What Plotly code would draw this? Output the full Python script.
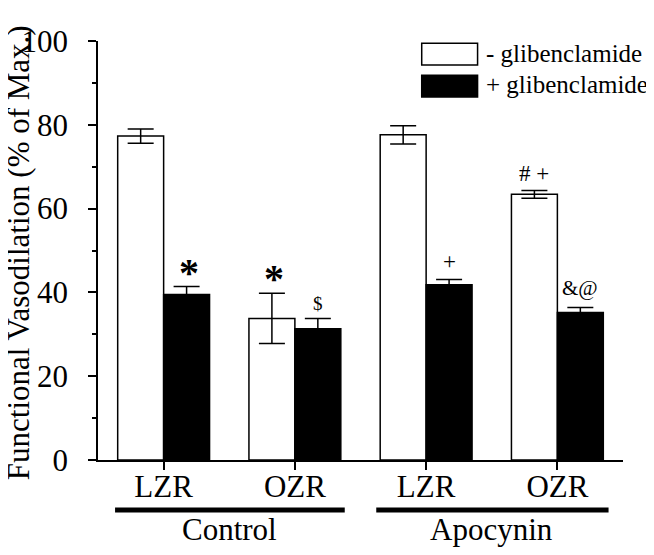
import plotly.graph_objects as go

# ---- data ----
x_pos = [0, 1, 2, 3]
strain_labels = ["LZR", "OZR", "LZR", "OZR"]
group_labels = ["Control", "Apocynin"]
minus_glib = [77.3, 33.8, 77.6, 63.4]
minus_glib_err = [1.7, 6.0, 2.2, 0.9]
plus_glib = [39.5, 31.3, 41.8, 35.2]
plus_glib_err = [1.9, 2.5, 1.3, 1.2]
minus_marks = ["", "*", "", "# +"]
plus_marks = ["*", "$", "+", "&@"]
y_ticks = [0, 20, 40, 60, 80, 100]
y_title = "Functional Vasodilation (% of Max.)"

FONT = "Liberation Serif, Times New Roman, DejaVu Serif, serif"

fig = go.Figure()
fig.add_trace(go.Bar(
    x=x_pos, y=minus_glib, name="- glibenclamide",
    marker=dict(color="white", line=dict(color="black", width=1.5)),
    error_y=dict(type="data", array=minus_glib_err, color="black", thickness=1.5, width=13),
    showlegend=False,
))
fig.add_trace(go.Bar(
    x=x_pos, y=plus_glib, name="+ glibenclamide",
    marker=dict(color="black", line=dict(color="black", width=1.5)),
    error_y=dict(type="data", array=plus_glib_err, color="black", thickness=1.5, width=13),
    showlegend=False,
))

annotations = []
bar_off = 0.175

def mark_style(t):
    if t == "*":
        return 40, -10
    if t == "$":
        return 19, 2
    if t == "&@":
        return 21, 5
    return 23, 3

for xs, vals, errs, marks in [
    (-bar_off, minus_glib, minus_glib_err, minus_marks),
    (bar_off, plus_glib, plus_glib_err, plus_marks),
]:
    for xi, v, e, m in zip(x_pos, vals, errs, marks):
        if not m:
            continue
        fs, ys = mark_style(m)
        txt = "<b>*</b>" if m == "*" else m
        annotations.append(dict(
            x=xi + xs, y=v + e, xref="x", yref="y", text=txt, showarrow=False,
            yanchor="bottom", yshift=ys, xshift=2 if m == "*" else 0,
            font=dict(family=FONT, size=fs, color="black"),
        ))

# group labels
for gx, gl in zip([0.5, 2.5], group_labels):
    annotations.append(dict(
        x=gx, y=-0.167, xref="x", yref="paper", text=gl, showarrow=False,
        yanchor="middle", font=dict(family=FONT, size=31, color="black"),
    ))

# y-axis title (rotated)
annotations.append(dict(
    x=-0.152, y=0.494, xref="paper", yref="paper", text=y_title, showarrow=False,
    textangle=-90, xanchor="center", yanchor="middle",
    font=dict(family=FONT, size=31, color="black"),
))

# manual legend text
annotations.append(dict(x=0.735, y=0.969, xref="paper", yref="paper", text="- glibenclamide",
                        showarrow=False, xanchor="left", yanchor="middle",
                        font=dict(family=FONT, size=25, color="black")))
annotations.append(dict(x=0.735, y=0.897, xref="paper", yref="paper", text="+ glibenclamide",
                        showarrow=False, xanchor="left", yanchor="middle",
                        font=dict(family=FONT, size=25, color="black")))

shapes = [
    dict(type="rect", xref="paper", yref="paper", x0=0.6166, x1=0.723, y0=0.9427, y1=0.9945,
         line=dict(color="black", width=1.5), fillcolor="white"),
    dict(type="rect", xref="paper", yref="paper", x0=0.6166, x1=0.723, y0=0.8663, y1=0.918,
         line=dict(color="black", width=1.5), fillcolor="black"),
    dict(type="line", xref="x", yref="paper", x0=-0.37, x1=1.38, y0=-0.1193, y1=-0.1193,
         line=dict(color="black", width=5)),
    dict(type="line", xref="x", yref="paper", x0=1.62, x1=3.39, y0=-0.1193, y1=-0.1193,
         line=dict(color="black", width=5)),
]

fig.update_layout(
    width=654, height=555,
    margin=dict(l=90, r=39, t=33, b=103, autoexpand=False),
    paper_bgcolor="white", plot_bgcolor="white",
    barmode="group", bargap=0.3, bargroupgap=0,
    font=dict(family=FONT, color="black"),
    annotations=annotations, shapes=shapes,
    showlegend=False,
)
fig.update_xaxes(
    range=[-0.5, 3.5], tickvals=x_pos, ticktext=strain_labels,
    showline=True, linecolor="black", linewidth=1.5,
    ticks="outside", ticklen=8, tickwidth=1.5, tickcolor="black",
    tickfont=dict(family=FONT, size=31, color="black"),
    ticklabelstandoff=-10,
    showgrid=False, zeroline=False, automargin=False,
)
fig.update_yaxes(
    range=[0, 100], tickvals=y_ticks,
    showline=True, linecolor="black", linewidth=1.5,
    ticks="outside", ticklen=8, tickwidth=1.5, tickcolor="black",
    minor=dict(ticks="outside", ticklen=4, tickwidth=1.5, tickcolor="black", dtick=10, tick0=0),
    tickfont=dict(family=FONT, size=31, color="black"),
    ticklabelstandoff=14,
    showgrid=False, zeroline=False, automargin=False,
)

fig.write_html("out.html")
